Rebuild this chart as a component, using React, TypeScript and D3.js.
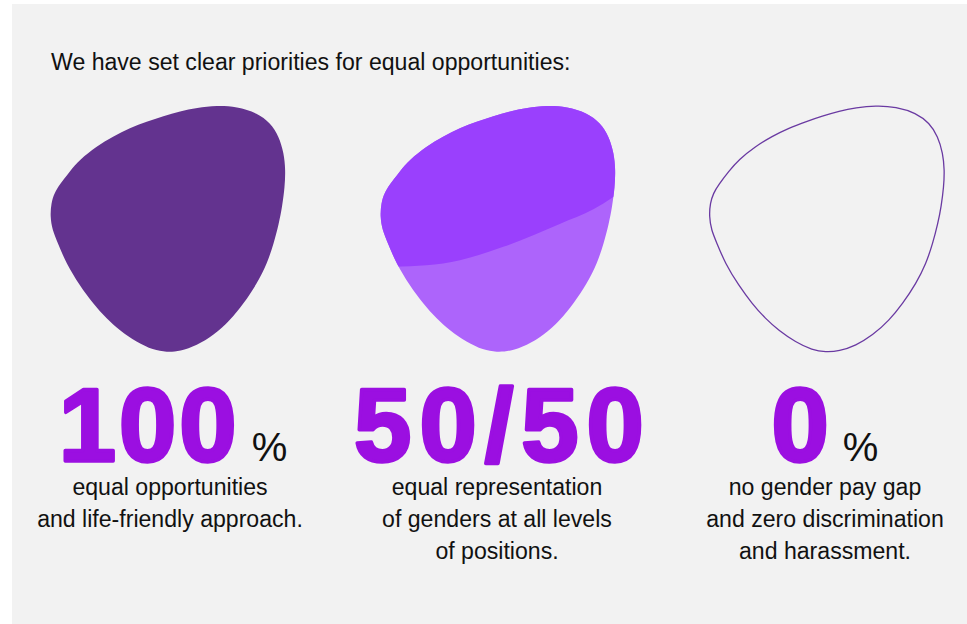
import React from "react";
import * as d3 from "d3";

const WIDTH = 967;
const HEIGHT = 624;

const TITLE = "We have set clear priorities for equal opportunities:";
const BIG_VALUES = ["100", "50/50", "0"];
const SUFFIXES = ["%", "", "%"];
const DESCRIPTIONS = [
  ["equal opportunities", "and life-friendly approach."],
  ["equal representation", "of genders at all levels", "of positions."],
  ["no gender pay gap", "and zero discrimination", "and harassment."],
];
const BLOB_STYLES = ["solid", "split", "outline"];

// normalized outline of the blob shape (0..1 in its bounding box)
const BLOB_SHAPE: [number, number][] = [
  [0.708, 0.0], [0.794, 0.005], [0.879, 0.03], [0.936, 0.071], [0.972, 0.125],
  [0.993, 0.193], [1.0, 0.261], [0.997, 0.328], [0.986, 0.41], [0.972, 0.478],
  [0.95, 0.559], [0.922, 0.64], [0.879, 0.722], [0.822, 0.803], [0.765, 0.871],
  [0.694, 0.932], [0.623, 0.973], [0.552, 0.996], [0.495, 1.0], [0.438, 0.991],
  [0.367, 0.959], [0.296, 0.912], [0.239, 0.864], [0.182, 0.803], [0.125, 0.729],
  [0.068, 0.64], [0.033, 0.559], [0.009, 0.505], [0.0, 0.45], [0.004, 0.396],
  [0.018, 0.355], [0.04, 0.321], [0.083, 0.267], [0.125, 0.22], [0.196, 0.166],
  [0.267, 0.125], [0.339, 0.091], [0.41, 0.066], [0.481, 0.043], [0.552, 0.023],
  [0.623, 0.009],
];
// normalized divider for the 50/50 blob
const DIVIDER: [number, number][] = [
  [-0.05, 0.656], [0.061, 0.654], [0.196, 0.648], [0.339, 0.627], [0.523, 0.573],
  [0.763, 0.48], [0.908, 0.42], [0.989, 0.372], [1.05, 0.33],
];

const COLORS = {
  panel: "#f2f2f2",
  dark: "#63338f",
  splitTop: "#9a40fd",
  splitBottom: "#ad64fb",
  outline: "#6a3aa2",
  big: "#9b0fe1",
  text: "#111111",
};

const BIG_SPACING = [3, 8, 0];
const BIG_SHIFT = [3, 6, 0];
const SUFFIX_GAP = [12, 0, 14];

export default function App() {
  const panel = { x: 12, y: 4 };
  const columns = d3.scaleOrdinal<number, number>().domain([0, 1, 2]).range([50.2, 380.2, 709.2]);
  const centers = d3.scaleOrdinal<number, number>().domain([0, 1, 2]).range([170, 497, 825]);
  const blobW = 235.3;
  const blobTop = 105.5;
  const blobH = 246.7;
  const font = "'Liberation Sans', Arial, Helvetica, sans-serif";
  const textSize = 23.1;

  return (
    <div style={{ position: "absolute", left: 0, top: 0 }}>
      <svg width={WIDTH} height={HEIGHT} style={{ display: "block" }}>
        <rect x={0} y={0} width={WIDTH} height={HEIGHT} fill="#ffffff" />
        <rect x={panel.x} y={panel.y} width={WIDTH - panel.x} height={HEIGHT - panel.y} fill={COLORS.panel} />
        <text x={51} y={70} fontFamily={font} fontSize={textSize} fill={COLORS.text}>
          {TITLE}
        </text>
        {BIG_VALUES.map((val, i) => {
          const x0 = columns(i);
          const xs = d3.scaleLinear().domain([0, 1]).range([x0, x0 + blobW]);
          const ys = d3.scaleLinear().domain([0, 1]).range([blobTop, blobTop + blobH]);
          const blobPath = d3
            .line<[number, number]>()
            .x((d) => xs(d[0]))
            .y((d) => ys(d[1]))
            .curve(d3.curveBasisClosed)(BLOB_SHAPE) as string;
          const divPath = d3
            .line<[number, number]>()
            .x((d) => xs(d[0]))
            .y((d) => ys(d[1]))
            .curve(d3.curveMonotoneX)(DIVIDER) as string;
          const topRegion = `${divPath}L${xs(1.05)},${ys(-0.05)}L${xs(-0.05)},${ys(-0.05)}Z`;
          const style = BLOB_STYLES[i];
          const cx = centers(i);
          const clipId = `blob-clip-${i}`;
          return (
            <g key={i}>
              {style === "solid" && <path d={blobPath} fill={COLORS.dark} />}
              {style === "split" && (
                <g>
                  <defs>
                    <clipPath id={clipId}>
                      <path d={blobPath} />
                    </clipPath>
                  </defs>
                  <path d={blobPath} fill={COLORS.splitBottom} />
                  <path d={topRegion} fill={COLORS.splitTop} clipPath={`url(#${clipId})`} />
                </g>
              )}
              {style === "outline" && (
                <path d={blobPath} fill="none" stroke={COLORS.outline} strokeWidth={1.3} />
              )}
              <text x={cx + BIG_SHIFT[i]} y={461} textAnchor="middle" fontFamily={font} fontWeight="bold">
                <tspan
                  fontSize={103}
                  fill={COLORS.big}
                  stroke={COLORS.big}
                  strokeWidth={3.5}
                  strokeLinejoin="round"
                  letterSpacing={BIG_SPACING[i]}
                >
                  {val}
                </tspan>
                {SUFFIXES[i] && (
                  <tspan dx={SUFFIX_GAP[i]} fontSize={40} fontWeight="normal" fill={COLORS.text} letterSpacing={0}>
                    {SUFFIXES[i]}
                  </tspan>
                )}
              </text>
              {DESCRIPTIONS[i].map((line, j) => (
                <text
                  key={j}
                  x={cx}
                  y={495 + j * 32}
                  textAnchor="middle"
                  fontFamily={font}
                  fontSize={textSize}
                  fill={COLORS.text}
                >
                  {line}
                </text>
              ))}
            </g>
          );
        })}
      </svg>
    </div>
  );
}
